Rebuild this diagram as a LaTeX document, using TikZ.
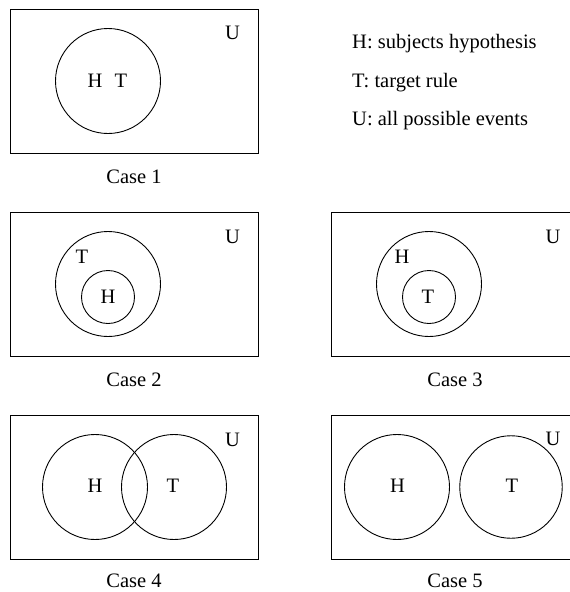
\documentclass[tikz,border=0pt]{standalone}
\usepackage{fontspec}
\setmainfont{Liberation Serif}
\begin{document}
\begin{tikzpicture}[x=1pt,y=-1pt,
  lbl/.style={inner sep=0pt,font=\fontsize{20.5}{24}\selectfont},
  setc/.style={circle,draw,line width=0.9pt,inner sep=0pt,minimum size=105pt},
  subc/.style={circle,draw,line width=0.9pt,inner sep=0pt,minimum size=53pt},
  ubox/.style={draw,line width=0.9pt}]
\useasboundingbox (0,0) rectangle (570,592);
\clip (0,0) rectangle (570,592);
% Case 1
\draw[ubox] (10,9) rectangle (258,153);
\node[setc] (c1) at (108,81) {};
\node[lbl] (c1h) at (95,81) {H};
\node[lbl] (c1t) at (121,81) {T};
\node[lbl] (c1u) at (232.5,33) {U};
\node[lbl] (cap1) at (134,177) {Case 1};
% Legend
\node[lbl,anchor=base west] (lh) at (352,48) {H: subjects hypothesis};
\node[lbl,anchor=base west] (lt) at (352,87) {T: target rule};
\node[lbl,anchor=base west] (lu) at (352,125) {U: all possible events};
% Case 2
\draw[ubox] (10,212) rectangle (258,356);
\node[setc] (c2t) at (108,284) {};
\node[subc] (c2h) at (108,297) {};
\node[lbl] (c2tl) at (82,257) {T};
\node[lbl] (c2hl) at (108,297) {H};
\node[lbl] (c2u) at (232.5,237) {U};
\node[lbl] (cap2) at (134,380) {Case 2};
% Case 3
\draw[ubox] (331,212) rectangle (575,356);
\node[setc] (c3h) at (429,284) {};
\node[subc] (c3t) at (429,297) {};
\node[lbl] (c3hl) at (402,257) {H};
\node[lbl] (c3tl) at (428,297) {T};
\node[lbl] (c3u) at (553,237) {U};
\node[lbl] (cap3) at (455,380) {Case 3};
% Case 4
\draw[ubox] (10,415) rectangle (258,559);
\node[setc] (c4h) at (95,487) {};
\node[setc] (c4t) at (174,487) {};
\node[lbl] (c4hl) at (95,486) {H};
\node[lbl] (c4tl) at (173,486) {T};
\node[lbl] (c4u) at (232.5,440) {U};
\node[lbl] (cap4) at (134,581) {Case 4};
% Case 5
\draw[ubox] (331,415) rectangle (575,559);
\node[setc] (c5h) at (397,487) {};
\node[setc,minimum size=102.5pt] (c5t) at (511,487) {};
\node[lbl] (c5hl) at (397.5,486) {H};
\node[lbl] (c5tl) at (512,486) {T};
\node[lbl] (c5u) at (553,439) {U};
\node[lbl] (cap5) at (455,581) {Case 5};
\end{tikzpicture}
\end{document}
